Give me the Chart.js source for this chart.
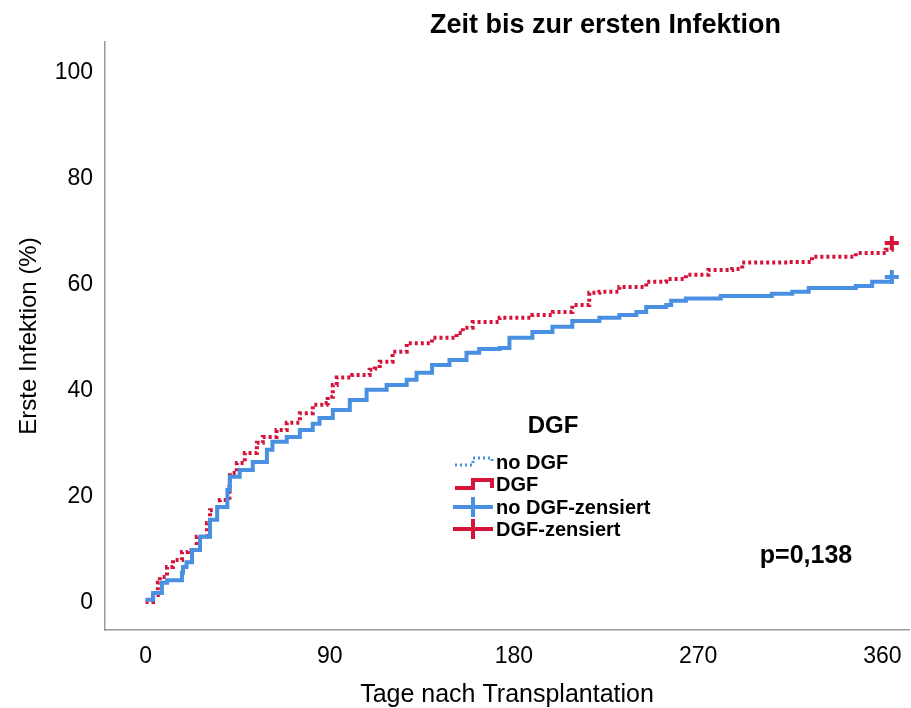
<!DOCTYPE html>
<html>
<head>
<meta charset="utf-8">
<script src="https://cdn.jsdelivr.net/npm/chart.js@4.4.1/dist/chart.umd.min.js"></script>
<style>
html, body { margin: 0; padding: 0; background: #fff; }
#wrap { width: 911px; height: 708px; }
</style>
</head>
<body>
<div id="wrap"><canvas id="km"></canvas></div>
<script>
const chartTitle = 'Zeit bis zur ersten Infektion';
const xTitle = 'Tage nach Transplantation';
const yTitle = 'Erste Infektion (%)';
const legendTitle = 'DGF';
const legendLabels = ['no DGF', 'DGF', 'no DGF-zensiert', 'DGF-zensiert'];
const pText = 'p=0,138';

const xTicks = [0, 90, 180, 270, 360];
const yTicks = [0, 20, 40, 60, 80, 100];

// no DGF (blue, solid)
const noDgfDays = [0, 3.7, 8, 10.5, 17.8, 18.3, 20, 22.7, 26.6, 31.5, 35, 40, 41.2, 46, 52.4, 59.3, 62, 69, 75.4,
  81.7, 85, 91.5, 99.8, 108, 117.8, 127.6, 132.4, 140, 148.5, 156.8, 163, 173, 177.8, 189, 198.8, 208.5,
  221.7, 231.5, 239.8, 244.6, 254.4, 256.8, 264, 281, 306, 316, 324, 347, 355, 364.6];
const noDgfValues = [0.6, 1.9, 3.8, 4.3, 5.7, 6.8, 7.7, 10, 12.5, 15.7, 18.1, 21.3, 23.8, 25.1, 26.6, 28.9, 30.4, 31.3, 32.6,
  33.8, 34.9, 36.4, 38.3, 40.2, 41.1, 42.1, 43.4, 44.9, 45.8, 47.2, 47.9, 48.1, 50, 51.1, 52.1, 53.2,
  53.8, 54.3, 54.9, 55.8, 56.2, 57, 57.4, 57.9, 58.3, 58.7, 59.4, 59.8, 60.6, 61.5];

// DGF (red, dotted)
const dgfDays = [0, 3.7, 6, 7, 10.5, 13.4, 17.8, 20.7, 25, 30, 31.5, 36.3, 41, 41.2, 44.6, 48.5, 54.4, 57.3, 64, 69,
  75.4, 81.7, 88.5, 89, 91.5, 93.4, 101, 109.5, 112, 114.4, 120.7, 127.6, 140, 152, 155, 159.8, 173, 189, 199,
  208.5, 216.8, 221.7, 231.5, 244.6, 254.4, 264, 275, 286.6, 291.5, 314, 325.6, 340, 347, 361.6, 364.6];
const dgfValues = [0.2, 1.5, 3.8, 4.9, 6.8, 8.1, 9.6, 10, 12.5, 15.1, 17.5, 19.4, 22.6, 24.5, 26.4, 28.3, 30.2, 31.3, 32.6, 34,
  35.8, 37.4, 37.7, 38.9, 41.1, 42.5, 43, 44, 44.2, 45.5, 47.4, 49, 50, 50.9, 51.9, 53, 53.8, 54.3, 54.9,
  56.2, 58.5, 58.7, 59.6, 60.6, 61.1, 61.9, 62.8, 63, 64.2, 64.3, 65.3, 65.3, 66, 66.6, 67.7];

// censored at end of follow-up
const noDgfCensor = [{ x: 364.6, y: 61.5 }];
const dgfCensor = [{ x: 364.6, y: 67.9 }];

const BLUE = '#4a90e2';
const RED = '#d4143a';
const FONT = '"Liberation Sans", Arial, sans-serif';

function toPoints(xs, ys) {
  return xs.map((x, i) => ({ x: x, y: ys[i] }));
}

// title, legend, p-value
const overlay = {
  id: 'overlay',
  afterDraw(chart) {
    const ctx = chart.ctx;
    ctx.save();
    ctx.fillStyle = '#000';

    ctx.font = 'bold 27px ' + FONT;
    ctx.textAlign = 'left';
    ctx.textBaseline = 'alphabetic';
    ctx.fillText(chartTitle, 430, 33);

    ctx.font = 'bold 24px ' + FONT;
    ctx.textAlign = 'center';
    ctx.textBaseline = 'middle';
    ctx.fillText(legendTitle, 553, 426);

    const rows = [462, 484, 507, 529];
    ctx.font = 'bold 20px ' + FONT;
    ctx.textAlign = 'left';
    legendLabels.forEach((t, i) => ctx.fillText(t, 496, rows[i] + 1));

    ctx.lineCap = 'butt';
    // no DGF icon (dotted blue step)
    let y = rows[0];
    ctx.strokeStyle = BLUE;
    ctx.lineWidth = 3;
    ctx.setLineDash([2, 3]);
    ctx.beginPath();
    ctx.moveTo(455, y + 3); ctx.lineTo(473, y + 3); ctx.lineTo(473, y - 4);
    ctx.lineTo(492, y - 4); ctx.lineTo(492, y + 2);
    ctx.stroke();
    ctx.setLineDash([]);

    // DGF icon (solid red step)
    y = rows[1];
    ctx.strokeStyle = RED;
    ctx.lineWidth = 4;
    ctx.beginPath();
    ctx.moveTo(455, y + 4); ctx.lineTo(473, y + 4); ctx.lineTo(473, y - 4);
    ctx.lineTo(492, y - 4); ctx.lineTo(492, y + 4);
    ctx.stroke();

    // censor icons
    [[rows[2], BLUE], [rows[3], RED]].forEach(([cy, col]) => {
      ctx.strokeStyle = col;
      ctx.lineWidth = 4;
      ctx.beginPath();
      ctx.moveTo(453, cy); ctx.lineTo(493, cy);
      ctx.moveTo(473, cy - 10); ctx.lineTo(473, cy + 10);
      ctx.stroke();
    });

    ctx.fillStyle = '#000';
    ctx.font = 'bold 25px ' + FONT;
    ctx.textAlign = 'center';
    ctx.fillText(pText, 806, 556);
    ctx.restore();
  }
};

new Chart(document.getElementById('km'), {
  type: 'line',
  data: {
    datasets: [
      {
        label: legendLabels[0],
        data: toPoints(noDgfDays, noDgfValues),
        borderColor: BLUE,
        borderWidth: 4,
        stepped: 'before',
        pointRadius: 0,
        fill: false
      },
      {
        label: legendLabels[1],
        data: toPoints(dgfDays, dgfValues),
        borderColor: RED,
        borderWidth: 4,
        borderDash: [3, 3],
        stepped: 'before',
        pointRadius: 0,
        fill: false
      },
      {
        label: legendLabels[2],
        data: noDgfCensor,
        showLine: false,
        pointStyle: 'cross',
        pointRadius: 7,
        pointBorderWidth: 4,
        borderColor: BLUE,
        backgroundColor: BLUE
      },
      {
        label: legendLabels[3],
        data: dgfCensor,
        showLine: false,
        pointStyle: 'cross',
        pointRadius: 7,
        pointBorderWidth: 4,
        borderColor: RED,
        backgroundColor: RED
      }
    ]
  },
  options: {
    responsive: true,
    maintainAspectRatio: false,
    animation: false,
    layout: { autoPadding: false, padding: { top: 42, right: 2, left: 0, bottom: 0 } },
    plugins: {
      legend: { display: false },
      title: { display: false },
      tooltip: { enabled: false }
    },
    scales: {
      x: {
        type: 'linear',
        min: -19.8,
        max: 373,
        afterBuildTicks: (s) => { s.ticks = xTicks.map(v => ({ value: v })); },
        afterFit: (s) => { s.height = 78; s.paddingLeft = 0; s.paddingRight = 0; },
        grid: { display: false, drawTicks: false },
        border: { display: true, color: '#9a9a9a', width: 1.5 },
        ticks: { color: '#000', font: { family: FONT, size: 23 }, padding: 13, maxRotation: 0 },
        title: { display: true, text: xTitle, color: '#000', font: { family: FONT, size: 25, lineHeight: 1 }, padding: { top: 0, bottom: 0 } }
      },
      y: {
        type: 'linear',
        min: -5.1,
        max: 105.8,
        afterBuildTicks: (s) => { s.ticks = yTicks.map(v => ({ value: v })); },
        afterFit: (s) => { s.width = 105; s.paddingTop = 0; s.paddingBottom = 0; },
        grid: { display: false, drawTicks: false },
        border: { display: true, color: '#9a9a9a', width: 1.5 },
        ticks: { color: '#000', font: { family: FONT, size: 23 }, padding: 12 },
        title: { display: true, text: yTitle, color: '#000', font: { family: FONT, size: 24, lineHeight: 1 }, padding: { top: 17, bottom: 0 } }
      }
    }
  },
  plugins: [overlay]
});
</script>
</body>
</html>
